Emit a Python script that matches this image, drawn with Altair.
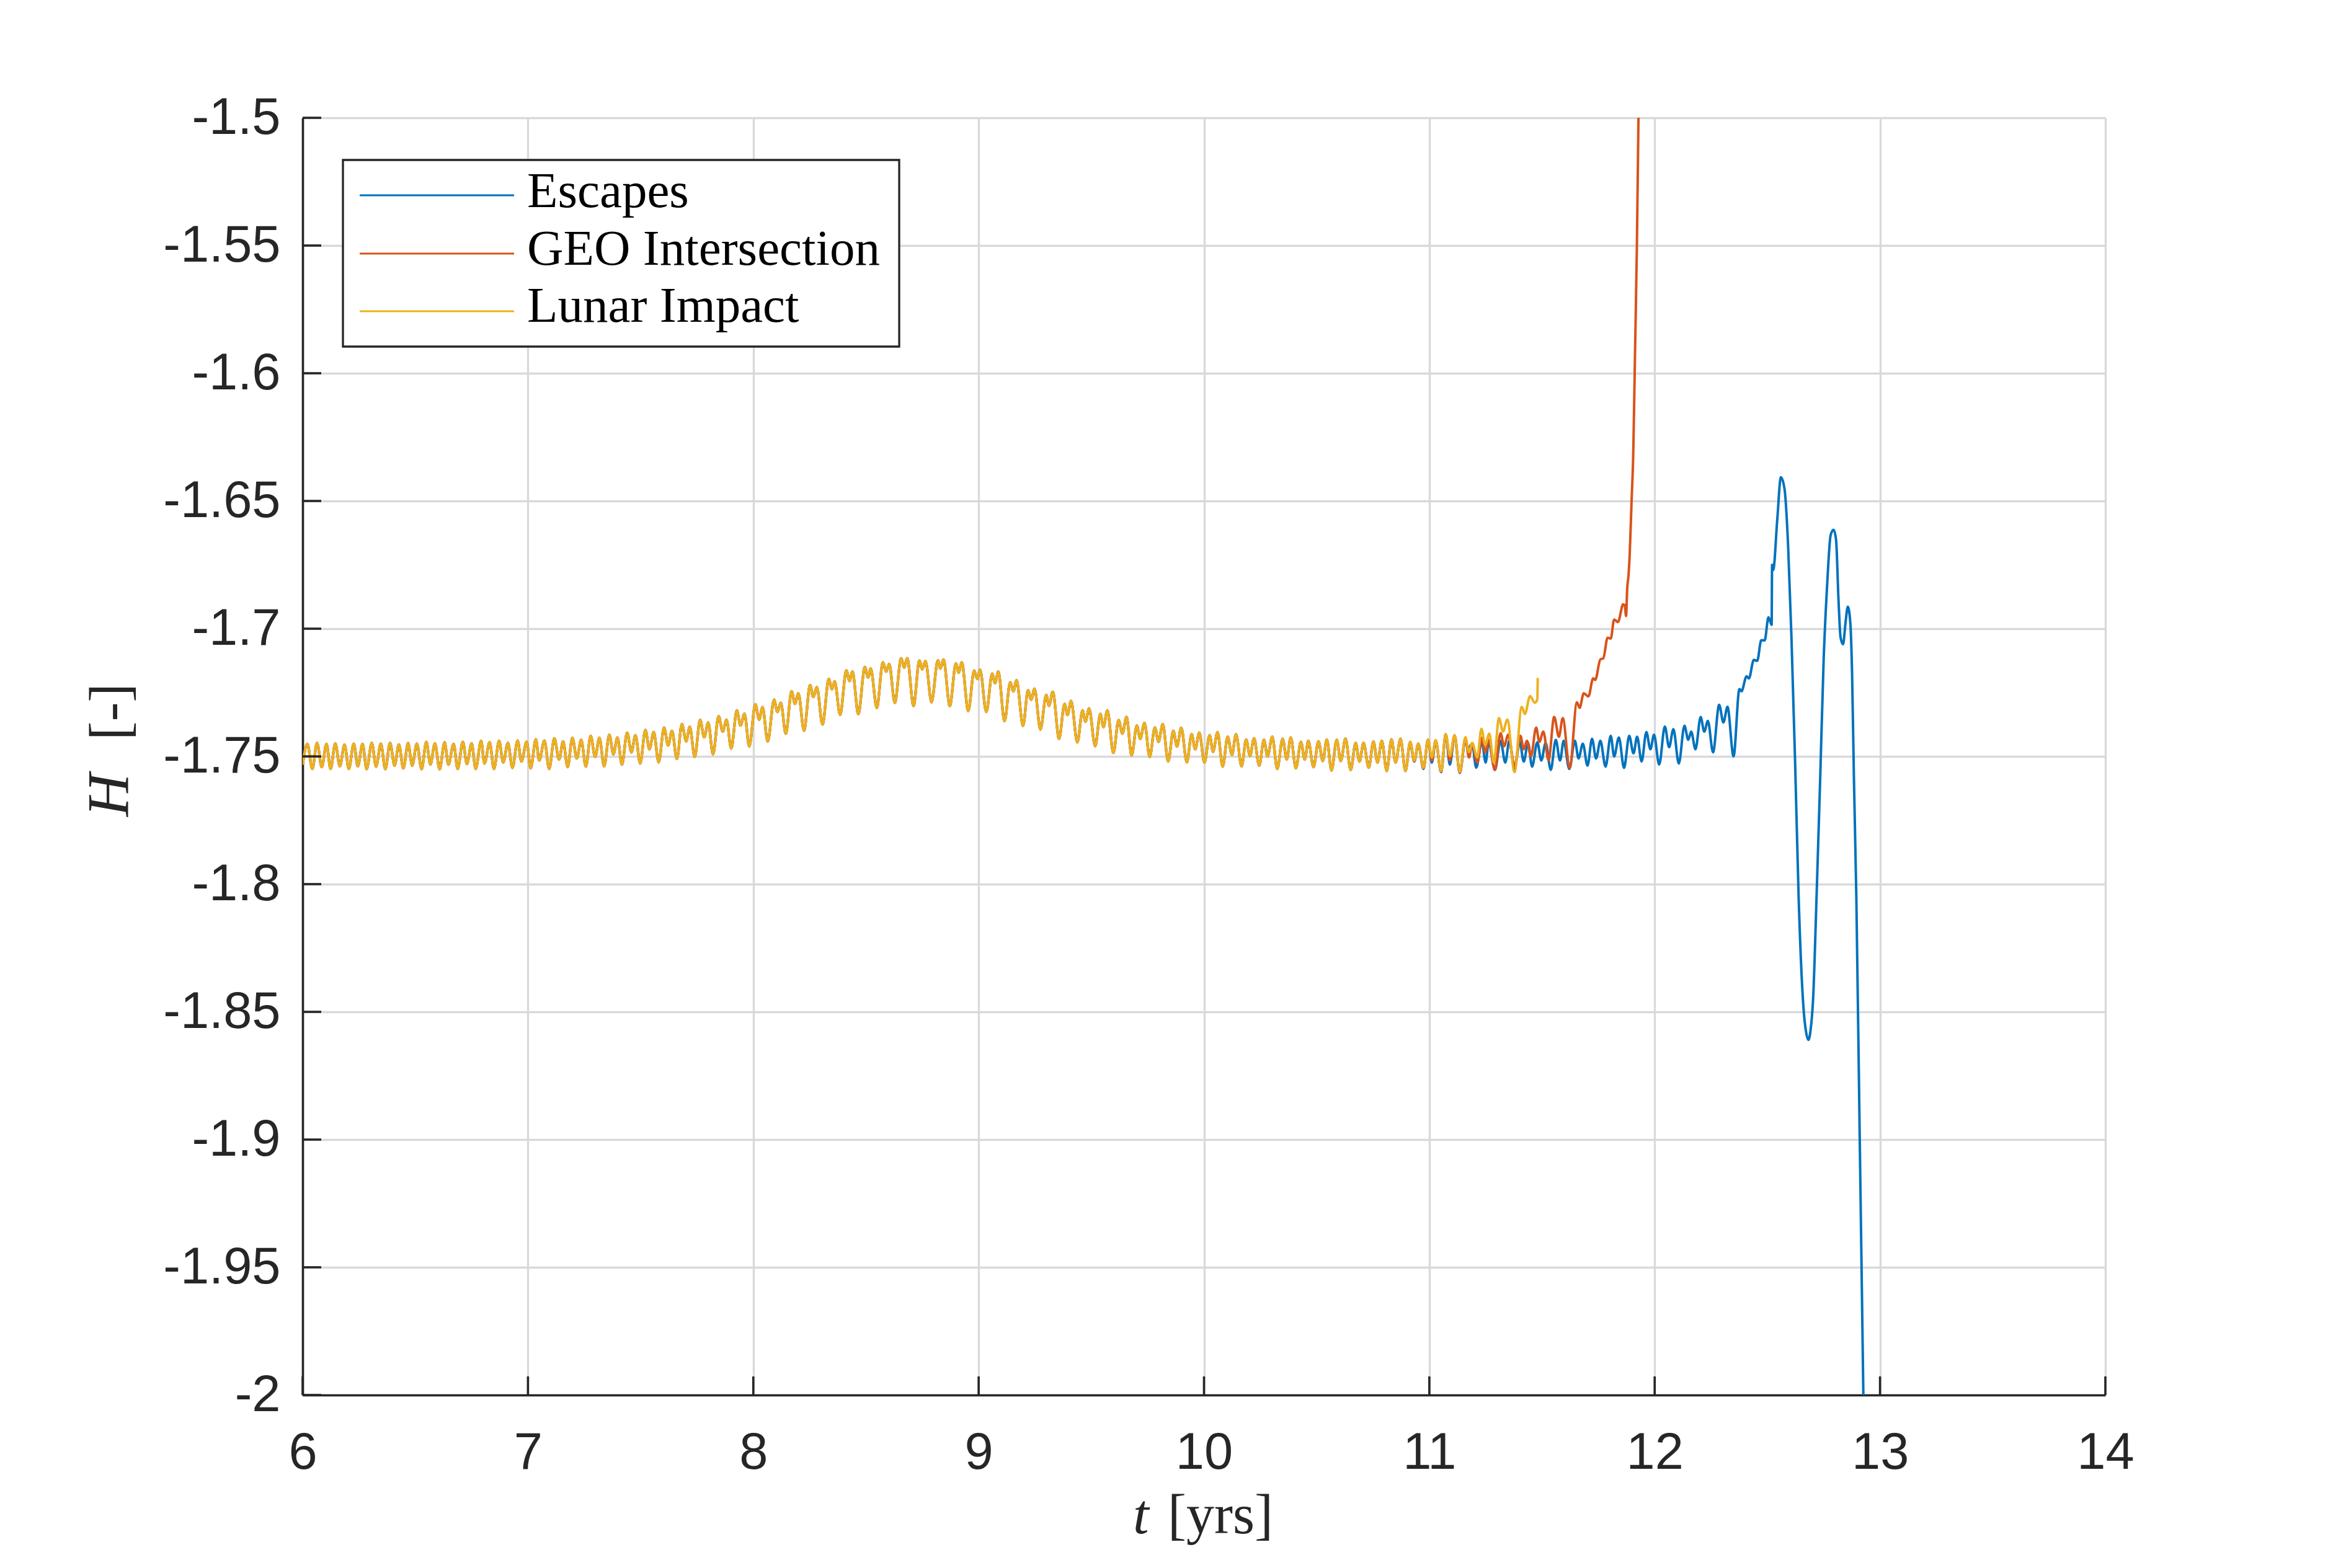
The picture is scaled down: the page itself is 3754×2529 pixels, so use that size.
import altair as alt
import pandas as pd

# ---------------- data (local extrema, t [yrs], H [-]) ----------------
SHARED = [
    (6.000,-1.7532),(6.021,-1.7451),(6.043,-1.7549),(6.064,-1.7447),(6.085,-1.7542),(6.106,-1.7451),
    (6.124,-1.7549),(6.145,-1.7449),(6.165,-1.7539),(6.186,-1.7454),(6.205,-1.7549),(6.227,-1.7450),
    (6.245,-1.7539),(6.266,-1.7451),(6.284,-1.7550),(6.307,-1.7447),(6.326,-1.7540),(6.347,-1.7450),
    (6.367,-1.7550),(6.388,-1.7447),(6.408,-1.7536),(6.427,-1.7453),(6.447,-1.7547),(6.468,-1.7448),
    (6.486,-1.7536),(6.507,-1.7450),(6.528,-1.7550),(6.549,-1.7443),(6.567,-1.7532),(6.587,-1.7449),
    (6.608,-1.7550),(6.630,-1.7445),(6.647,-1.7532),(6.670,-1.7451),(6.688,-1.7549),(6.711,-1.7443),
    (6.729,-1.7530),(6.750,-1.7449),(6.768,-1.7549),(6.792,-1.7439),(6.807,-1.7528),(6.830,-1.7445),
    (6.849,-1.7549),(6.872,-1.7439),(6.890,-1.7524),(6.911,-1.7447),(6.931,-1.7545),(6.954,-1.7438),
    (6.971,-1.7520),(6.994,-1.7443),(7.012,-1.7547),(7.035,-1.7433),(7.050,-1.7516),(7.073,-1.7438),
    (7.094,-1.7549),(7.117,-1.7429),(7.138,-1.7512),(7.156,-1.7441),(7.176,-1.7542),(7.197,-1.7427),
    (7.217,-1.7508),(7.236,-1.7435),(7.257,-1.7540),(7.278,-1.7419),(7.298,-1.7502),(7.317,-1.7427),
    (7.338,-1.7539),(7.361,-1.7415),(7.379,-1.7492),(7.397,-1.7426),(7.417,-1.7532),(7.440,-1.7407),
    (7.459,-1.7484),(7.477,-1.7417),(7.498,-1.7528),(7.521,-1.7396),(7.539,-1.7472),(7.558,-1.7405),
    (7.580,-1.7523),(7.604,-1.7387),(7.622,-1.7457),(7.639,-1.7400),(7.661,-1.7510),(7.683,-1.7373),
    (7.702,-1.7441),(7.718,-1.7384),(7.740,-1.7502),(7.764,-1.7357),(7.782,-1.7425),(7.800,-1.7368),
    (7.821,-1.7492),(7.846,-1.7342),(7.864,-1.7403),(7.881,-1.7356),(7.902,-1.7469),(7.927,-1.7320),
    (7.943,-1.7379),(7.961,-1.7333),(7.982,-1.7461),(8.009,-1.7296),(8.026,-1.7356),(8.041,-1.7307),
    (8.064,-1.7442),(8.092,-1.7278),(8.107,-1.7326),(8.122,-1.7290),(8.144,-1.7411),
    (8.170,-1.7245),(8.185,-1.7294),(8.200,-1.7253),(8.225,-1.7399),(8.252,-1.7221),(8.266,-1.7267),
    (8.282,-1.7229),(8.307,-1.7375),(8.335,-1.7197),(8.349,-1.7237),(8.361,-1.7206),(8.385,-1.7337),
    (8.413,-1.7164),(8.427,-1.7205),(8.440,-1.7168),(8.466,-1.7334),(8.495,-1.7150),(8.509,-1.7191),
    (8.521,-1.7156),(8.548,-1.7310),(8.575,-1.7132),(8.590,-1.7168),(8.603,-1.7138),(8.628,-1.7290),
    (8.656,-1.7116),(8.670,-1.7152),(8.683,-1.7116),(8.711,-1.7302),(8.737,-1.7125),(8.750,-1.7159),
    (8.764,-1.7126),(8.791,-1.7288),(8.819,-1.7124),(8.830,-1.7156),(8.844,-1.7121),(8.872,-1.7302),
    (8.899,-1.7136),(8.911,-1.7172),(8.925,-1.7132),(8.954,-1.7322),(8.980,-1.7164),(8.994,-1.7197),
    (9.006,-1.7160),(9.034,-1.7326),(9.060,-1.7176),(9.073,-1.7213),(9.087,-1.7168),(9.115,-1.7362),
    (9.140,-1.7210),(9.154,-1.7245),(9.168,-1.7202),(9.197,-1.7380),
    (9.219,-1.7241),(9.233,-1.7278),(9.248,-1.7235),(9.274,-1.7395),(9.300,-1.7259),(9.312,-1.7302),
    (9.329,-1.7247),(9.357,-1.7431),(9.381,-1.7294),(9.394,-1.7338),(9.410,-1.7283),(9.438,-1.7445),
    (9.461,-1.7320),(9.474,-1.7364),(9.490,-1.7312),(9.517,-1.7460),(9.540,-1.7334),(9.554,-1.7385),
    (9.571,-1.7320),(9.598,-1.7486),(9.621,-1.7358),(9.638,-1.7411),(9.656,-1.7346),(9.679,-1.7496),
    (9.702,-1.7379),(9.717,-1.7431),(9.736,-1.7369),(9.759,-1.7502),(9.782,-1.7387),(9.798,-1.7443),
    (9.817,-1.7373),(9.841,-1.7520),(9.864,-1.7400),(9.880,-1.7461),(9.899,-1.7388),(9.924,-1.7523),
    (9.945,-1.7413),(9.961,-1.7472),(9.979,-1.7407),(10.002,-1.7524),(10.025,-1.7417),(10.040,-1.7482),
    (10.060,-1.7405),(10.083,-1.7540),(10.105,-1.7423),(10.124,-1.7494),(10.142,-1.7413),(10.167,-1.7539),
    (10.187,-1.7434),(10.204,-1.7498),(10.222,-1.7429),(10.245,-1.7536),(10.266,-1.7435),
    (10.282,-1.7500),(10.303,-1.7423),(10.325,-1.7549),(10.349,-1.7431),(10.367,-1.7512),(10.385,-1.7426),
    (10.408,-1.7547),(10.430,-1.7443),(10.447,-1.7512),(10.463,-1.7439),(10.486,-1.7542),(10.508,-1.7441),
    (10.527,-1.7518),(10.545,-1.7434),(10.566,-1.7555),(10.589,-1.7435),(10.607,-1.7518),(10.628,-1.7430),
    (10.651,-1.7553),(10.673,-1.7447),(10.690,-1.7520),(10.708,-1.7447),(10.731,-1.7544),(10.752,-1.7442),
    (10.770,-1.7524),(10.789,-1.7439),(10.811,-1.7557),(10.832,-1.7433),(10.850,-1.7524),(10.872,-1.7431),
    (10.894,-1.7557),
]

LUNAR_TAIL = [
    (10.915,-1.7443),(10.933,-1.7516),(10.951,-1.7450),(10.974,-1.7544),(10.994,-1.7434),(11.011,-1.7504),
    (11.028,-1.7437),(11.052,-1.7557),(11.073,-1.7413),(11.091,-1.7498),(11.112,-1.7417),(11.135,-1.7561),
    (11.160,-1.7425),(11.176,-1.7484),(11.190,-1.7447),(11.213,-1.7504),(11.231,-1.7392),(11.248,-1.7455),
    (11.266,-1.7411),(11.286,-1.7524),(11.309,-1.7350),(11.327,-1.7403),(11.346,-1.7356),(11.378,-1.7561),
    (11.410,-1.7306),(11.424,-1.7334),(11.447,-1.7264),(11.468,-1.7290),(11.479,-1.7278),(11.481,-1.7193),
]

GEO_TAIL = [
    (10.915,-1.7443),(10.933,-1.7518),(10.951,-1.7450),(10.974,-1.7547),(10.994,-1.7434),(11.011,-1.7516),
    (11.028,-1.7437),(11.052,-1.7559),(11.073,-1.7413),(11.091,-1.7516),(11.112,-1.7417),(11.135,-1.7563),
    (11.160,-1.7431),(11.176,-1.7504),(11.190,-1.7451),(11.213,-1.7524),(11.233,-1.7427),(11.248,-1.7484),
    (11.263,-1.7435),(11.291,-1.7553),(11.316,-1.7409),(11.332,-1.7460),(11.350,-1.7415),(11.378,-1.7540),
    (11.404,-1.7419),(11.419,-1.7472),(11.433,-1.7439),(11.451,-1.7500),(11.474,-1.7387),(11.488,-1.7443),
    (11.506,-1.7403),(11.529,-1.7516),(11.554,-1.7345),(11.575,-1.7423),(11.592,-1.7350),(11.623,-1.7545),
    (11.655,-1.7288),(11.667,-1.7310),(11.685,-1.7253),(11.706,-1.7265),(11.727,-1.7194),(11.736,-1.7201),
    (11.759,-1.7120),(11.772,-1.7116),(11.791,-1.7035),(11.805,-1.7039),(11.820,-1.6964),(11.837,-1.6974),
    (11.860,-1.6905),(11.867,-1.6909),(11.873,-1.6950),(11.878,-1.6844),(11.884,-1.6790),(11.889,-1.6713),
    (11.897,-1.6512),(11.905,-1.6311),(11.913,-1.5908),(11.921,-1.5506),(11.928,-1.5000),(11.935,-1.4500),
]

ESCAPE_TAIL = [
    (10.915,-1.7446),(10.933,-1.7520),(10.951,-1.7451),(10.974,-1.7549),(10.994,-1.7435),(11.011,-1.7524),
    (11.028,-1.7438),(11.052,-1.7561),(11.073,-1.7415),(11.091,-1.7532),(11.112,-1.7418),(11.135,-1.7565),
    (11.160,-1.7435),(11.172,-1.7468),(11.190,-1.7451),(11.208,-1.7544),(11.233,-1.7443),(11.250,-1.7524),
    (11.263,-1.7443),(11.291,-1.7553),(11.316,-1.7439),(11.337,-1.7524),(11.355,-1.7439),(11.378,-1.7549),
    (11.401,-1.7443),(11.419,-1.7520),(11.438,-1.7447),(11.456,-1.7540),(11.479,-1.7445),(11.497,-1.7516),
    (11.516,-1.7447),(11.539,-1.7553),(11.561,-1.7435),(11.580,-1.7516),(11.596,-1.7439),(11.621,-1.7549),
    (11.646,-1.7439),(11.662,-1.7508),(11.681,-1.7450),(11.702,-1.7536),(11.722,-1.7431),(11.740,-1.7508),
    (11.759,-1.7439),(11.782,-1.7540),(11.805,-1.7419),(11.820,-1.7500),(11.841,-1.7426),(11.864,-1.7545),
    (11.887,-1.7419),(11.906,-1.7488),(11.922,-1.7423),(11.942,-1.7520),(11.963,-1.7405),(11.981,-1.7472),
    (11.997,-1.7415),(12.020,-1.7532),(12.045,-1.7383),(12.064,-1.7464),(12.083,-1.7393),(12.107,-1.7528),
    (12.132,-1.7380),(12.149,-1.7435),(12.162,-1.7403),(12.181,-1.7472),(12.204,-1.7346),(12.220,-1.7403),
    (12.236,-1.7361),(12.259,-1.7484),(12.286,-1.7298),(12.305,-1.7367),(12.323,-1.7306),(12.350,-1.7500),
    (12.376,-1.7236),(12.385,-1.7245),(12.408,-1.7186),(12.418,-1.7195),(12.440,-1.7122),(12.455,-1.7126),
    (12.473,-1.7045),(12.488,-1.7046),(12.505,-1.6955),(12.519,-1.6985),(12.521,-1.6750),(12.526,-1.6770),
    (12.544,-1.6572),(12.560,-1.6407),(12.576,-1.6452),(12.592,-1.6673),(12.607,-1.7035),(12.623,-1.7518),
    (12.639,-1.8057),(12.660,-1.8480),(12.672,-1.8580),(12.682,-1.8610),(12.692,-1.8570),(12.703,-1.8450),
    (12.718,-1.8060),(12.734,-1.7600),(12.750,-1.7116),(12.765,-1.6834),(12.781,-1.6633),(12.794,-1.6613),
    (12.805,-1.6653),(12.816,-1.6894),(12.825,-1.7035),(12.836,-1.7061),(12.847,-1.6975),(12.857,-1.6914),
    (12.868,-1.6975),(12.876,-1.7176),(12.884,-1.7578),(12.895,-1.8057),(12.910,-1.9000),(12.926,-2.0000),
    (12.935,-2.0600),
]

SERIES = ["Escapes", "GEO Intersection", "Lunar Impact"]
X_TICKS = [6, 7, 8, 9, 10, 11, 12, 13, 14]
Y_TICKS = [-2, -1.95, -1.9, -1.85, -1.8, -1.75, -1.7, -1.65, -1.6, -1.55, -1.5]

# ---------------- styling ----------------
COLORS = {"Escapes": "#0072BD", "GEO Intersection": "#D95319", "Lunar Impact": "#EDB120"}
AX = "#262626"
GRID = "#d9d9d9"
W, H = 2907, 2060
TICK_FONT = "Liberation Sans"
SERIF = "Liberation Serif"


def frame(points, name):
    return pd.DataFrame({"t": [p[0] for p in points], "H": [p[1] for p in points], "series": name})


tails = {"Escapes": ESCAPE_TAIL, "GEO Intersection": GEO_TAIL, "Lunar Impact": LUNAR_TAIL}

xscale = alt.Scale(domain=[6, 14], nice=False, zero=False)
yscale = alt.Scale(domain=[-2, -1.5], nice=False, zero=False)

xaxis = alt.Axis(values=X_TICKS, title=None, grid=True, gridColor=GRID, gridWidth=3.3,
                 domainColor=AX, domainWidth=3.6, ticks=False, tickSize=0,
                 labelFont=TICK_FONT, labelFontSize=83, labelColor=AX, labelPadding=52,
                 labelFlush=False, labelOverlap=False, labelLimit=1000)
yaxis = alt.Axis(values=Y_TICKS, title=None, grid=True, gridColor=GRID, gridWidth=3.3,
                 domainColor=AX, domainWidth=3.6, ticks=False, tickSize=0,
                 labelFont=TICK_FONT, labelFontSize=83, labelColor=AX, labelPadding=36,
                 labelExpr="'' + datum.value", labelOverlap=False, labelLimit=1000)

X_ENC = alt.X("t:Q", scale=xscale, axis=xaxis)
Y_ENC = alt.Y("H:Q", scale=yscale, axis=yaxis)

layers = []
for name in SERIES:
    df = frame(SHARED + tails[name], name)
    layers.append(
        alt.Chart(df).mark_line(interpolate="monotone", clip=True, strokeWidth=4,
                                color=COLORS[name], strokeJoin="round")
        .encode(x=X_ENC, y=Y_ENC, order=alt.Order("t:Q"))
    )

# inward tick marks (MATLAB style)
xt = alt.Chart(pd.DataFrame({"t": X_TICKS})).mark_rule(color=AX, strokeWidth=3.6).encode(
    x=X_ENC, y=alt.value(H), y2=alt.value(H - 30))
yt = alt.Chart(pd.DataFrame({"H": Y_TICKS})).mark_rule(color=AX, strokeWidth=3.6).encode(
    y=Y_ENC, x=alt.value(0), x2=alt.value(30))
layers += [xt, yt]

one = pd.DataFrame({"k": [0]})

# legend box
layers.append(alt.Chart(one).mark_rect(fill="white", stroke=AX, strokeWidth=3.3).encode(
    x=alt.value(65), x2=alt.value(962), y=alt.value(68), y2=alt.value(369)))
leg_rows = [(125, 144), (219, 237), (312, 329)]
for name, (ly, ty) in zip(SERIES, leg_rows):
    layers.append(alt.Chart(one).mark_rule(color=COLORS[name], strokeWidth=3.2).encode(
        x=alt.value(92), x2=alt.value(341), y=alt.value(ly)))
    layers.append(alt.Chart(pd.DataFrame({"s": [name]})).mark_text(
        font=SERIF, fontSize=81, color="black", align="left", baseline="alphabetic").encode(
        text="s:N", x=alt.value(362), y=alt.value(ty)))

# axis titles (italic symbol + roman unit, LaTeX-like)
layers.append(alt.Chart(pd.DataFrame({"s": ["t"]})).mark_text(
    font=SERIF, fontSize=92, fontStyle="italic", color=AX, align="left", baseline="alphabetic").encode(
    text="s:N", x=alt.value(1339), y=alt.value(2283)))
layers.append(alt.Chart(pd.DataFrame({"s": ["[yrs]"]})).mark_text(
    font=SERIF, fontSize=90, color=AX, align="left", baseline="alphabetic").encode(
    text="s:N", x=alt.value(1395), y=alt.value(2283)))
layers.append(alt.Chart(pd.DataFrame({"s": ["H"]})).mark_text(
    font=SERIF, fontSize=96, fontStyle="italic", color=AX, align="left", baseline="alphabetic",
    angle=270).encode(text="s:N", x=alt.value(-281), y=alt.value(1127)))
layers.append(alt.Chart(pd.DataFrame({"s": ["[-]"]})).mark_text(
    font=SERIF, fontSize=92, color=AX, align="left", baseline="alphabetic",
    angle=270).encode(text="s:N", x=alt.value(-281), y=alt.value(1004)))

chart = alt.layer(*layers).properties(
    width=W, height=H,
    autosize=alt.AutoSizeParams(type="none"),
    padding={"left": 480, "top": 182, "right": 340, "bottom": 260},
    background="white",
).configure_view(stroke=None)

chart.save("out.html", embed_options={"renderer": "svg", "actions": False})
